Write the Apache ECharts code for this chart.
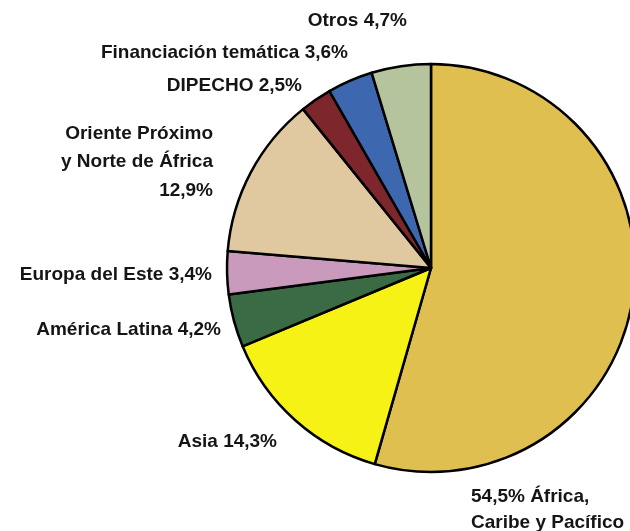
<!DOCTYPE html>
<html>
<head>
<meta charset="utf-8">
<script src="https://cdn.jsdelivr.net/npm/echarts@6/dist/echarts.min.js"></script>
<style>
  html, body { margin: 0; padding: 0; background: #fff; }
  #chart { width: 630px; height: 531px; }
</style>
</head>
<body>
<div id="chart"></div>
<script>
// datos del gráfico
var categories = ["África, Caribe y Pacífico", "Asia", "América Latina", "Europa del Este",
                  "Oriente Próximo y Norte de África", "DIPECHO", "Financiación temática", "Otros"];
var values = [54.5, 14.3, 4.2, 3.4, 12.9, 2.5, 3.6, 4.7];
var labelTexts = [
    "54,5% África,\nCaribe y Pacífico",
    "Asia 14,3%",
    "América Latina 4,2%",
    "Europa del Este 3,4%",
    "Oriente Próximo\ny Norte de África\n12,9%",
    "DIPECHO 2,5%",
    "Financiación temática 3,6%",
    "Otros 4,7%"
];
var colors = ["#DFBF50", "#F7F216", "#3A6B44", "#C99ABC", "#E0C8A0", "#7D262B", "#3D68AF", "#B5C49D"];

// posiciones de las etiquetas (x, y, alineación)
var labelPos = [
    [471, 510, "left"],
    [277, 442, "right"],
    [221, 330, "right"],
    [212, 275, "right"],
    [213, 162, "right"],
    [302, 86, "right"],
    [348, 53, "right"],
    [407, 21, "right"]
];

var chartData = values.map(function (v, i) {
    return {
        value: v,
        name: categories[i],
        itemStyle: { color: colors[i] },
        label: { formatter: labelTexts[i], lineHeight: i === 0 ? 26 : 28.5 }
    };
});

var myChart = echarts.init(document.getElementById("chart"));

var option = {
    animation: false,
    series: [{
        type: "pie",
        center: [431, 268],
        radius: 204,
        startAngle: 90,
        clockwise: true,
        avoidLabelOverlap: false,
        data: chartData,
        itemStyle: {
            borderColor: "#000",
            borderWidth: 2.5
        },
        label: {
            show: true,
            position: "outside",
            fontFamily: "Liberation Sans",
            fontWeight: "bold",
            fontSize: 19,
            color: "#151515"
        },
        labelLine: { show: false },
        labelLayout: function (params) {
            var p = labelPos[params.dataIndex];
            return {
                x: p[0],
                y: p[1],
                align: p[2],
                verticalAlign: "middle"
            };
        }
    }]
};

myChart.setOption(option);
</script>
</body>
</html>
